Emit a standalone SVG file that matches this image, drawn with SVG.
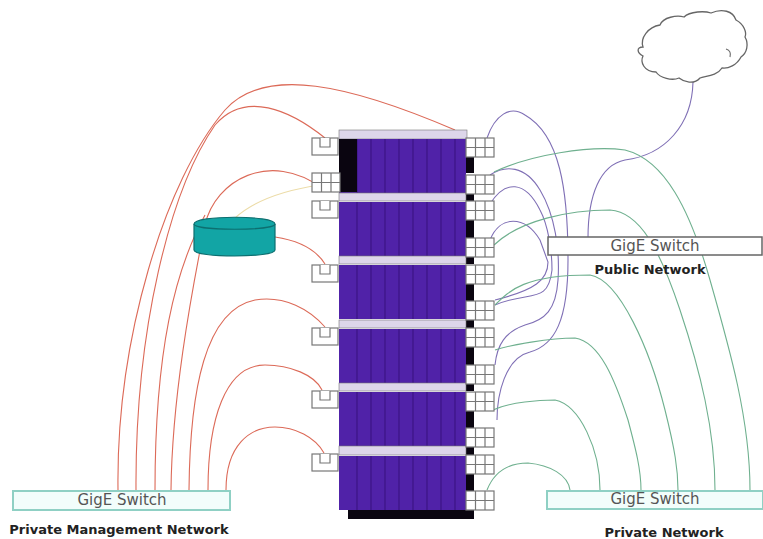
<svg xmlns="http://www.w3.org/2000/svg" width="763" height="539" viewBox="0 0 763 539">
<style>
.r{fill:none;stroke:#dc6a58;stroke-width:1.1}
.p{fill:none;stroke:#7f6fb5;stroke-width:1.1}
.g{fill:none;stroke:#6fb08f;stroke-width:1.1}
.port{fill:#fff;stroke:#777;stroke-width:1.2}
.blade{fill:#5022a8}
.bar{fill:#ddd6ea;stroke:#777;stroke-width:.6}
.k{fill:#0a0510}
.sl{stroke:#3c1585;stroke-width:1.2}
.sw{fill:#f2fdfb;stroke:#8fd0c4;stroke-width:2}
.t{font-family:"DejaVu Sans",sans-serif;font-size:15px;fill:#555;text-anchor:middle}
.l{font-family:"DejaVu Sans",sans-serif;font-weight:bold;font-size:13px;fill:#222;text-anchor:middle}
</style>
<defs>
<g id="single"><rect class="port" x="0" y="0" width="26" height="17"/><path class="port" d="M8 0V9H18V0" fill="none"/></g>
<g id="triple"><rect class="port" x="0" y="0" width="28" height="19"/><path class="port" d="M9.500 0V19M19 0V19M0 9.500H28" fill="none"/></g>
<g id="blade"><rect class="blade" x="339" y="0" width="127" height="54"/>
<path class="sl" d="M357 0V54M371 0V54M385 0V54M399 0V54M413 0V54M427 0V54M441 0V54M455 0V54"/></g>
</defs>
<g id="connectors">
<path class="r" d="M118 490C116 340 165 180 225 110C265 65 350 85 455 130"/>
<path class="r" d="M136 490C135 330 170 190 215 125C245 90 290 110 325 138"/>
<path class="r" d="M155 490C155 350 175 270 205 215"/>
<path class="r" d="M171 490C172 400 190 300 205 225C215 180 270 150 322 188"/>
<path class="r" d="M189 490C190 390 205 310 255 300C285 295 310 310 325 327"/>
<path class="r" d="M208 490C208 420 225 365 265 365C290 365 315 375 322 390"/>
<path class="r" d="M226 490C226 445 250 427 275 427C295 427 315 437 324 453"/>
<path class="r" d="M275 237C295 240 315 248 325 264"/>
<path d="M235 218C255 200 285 190 320 185" fill="none" stroke="#ecdca8" stroke-width="1.100"/>
<path class="p" d="M693 82C692 125 665 155 625 160C600 165 588 195 588 238"/>
<path class="p" d="M487 138C495 115 510 105 525 115C560 135 568 190 568 260C568 320 555 345 530 352C505 358 497 395 497 420"/>
<path class="p" d="M490 175C505 165 525 165 540 190C555 215 560 250 558 280C556 310 545 320 525 325C505 332 497 345 495 365"/>
<path class="p" d="M490 204C505 180 525 180 540 210C548 225 552 250 552 270C548 305 530 290 495 305"/>
<path class="p" d="M490 240C500 215 525 215 540 240L548 262C548 280 535 290 495 300"/>
<path class="g" d="M494 172C530 155 590 145 625 150C665 160 690 210 710 280C730 350 750 420 750 490"/>
<path class="g" d="M494 245C520 220 570 210 610 210C640 212 660 250 680 310C700 370 715 430 715 490"/>
<path class="g" d="M495 305C510 290 525 275 590 275C620 280 650 350 665 410C675 450 678 470 678 490"/>
<path class="g" d="M495 350C510 345 550 338 575 338C600 342 615 380 628 420C636 450 641 470 641 490"/>
<path class="g" d="M493 410C510 402 540 400 555 400C580 405 600 450 600 490"/>
<path class="g" d="M487 490C495 470 510 463 528 463C550 465 568 475 570 490"/>
</g>
<g id="rack">
<rect x="348" y="510" width="126" height="9" class="k"/>
<rect class="k" x="466" y="157" width="8" height="16"/><rect class="k" x="466" y="194" width="8" height="7"/>
<rect class="k" x="466" y="220" width="8" height="18"/><rect class="k" x="466" y="257" width="8" height="7"/>
<rect class="k" x="466" y="283" width="8" height="18"/><rect class="k" x="466" y="320" width="8" height="8"/>
<rect class="k" x="466" y="347" width="8" height="18"/><rect class="k" x="466" y="384" width="8" height="7"/>
<rect class="k" x="466" y="411" width="8" height="17"/><rect class="k" x="466" y="447" width="8" height="8"/>
<rect class="k" x="466" y="473" width="8" height="18"/>
<rect class="bar" x="339" y="130" width="128" height="9"/>
<use href="#blade" y="139"/><rect class="k" x="339" y="139" width="18" height="53"/>
<rect class="bar" x="339" y="193" width="127" height="8"/>
<use href="#blade" y="202"/>
<rect class="bar" x="339" y="256" width="127" height="8"/>
<use href="#blade" y="265"/>
<rect class="bar" x="339" y="320" width="127" height="8"/>
<use href="#blade" y="329"/>
<rect class="bar" x="339" y="383" width="127" height="8"/>
<use href="#blade" y="392"/>
<rect class="bar" x="339" y="446" width="127" height="9"/>
<use href="#blade" y="456"/>
</g>
<g id="ports-left">
<use href="#single" x="312" y="138"/><use href="#triple" x="312" y="173"/><use href="#single" x="312" y="201"/>
<use href="#single" x="312" y="265"/><use href="#single" x="312" y="328"/><use href="#single" x="312" y="391"/><use href="#single" x="312" y="454"/>
</g>
<g id="ports-right">
<use href="#triple" x="466" y="138"/><use href="#triple" x="466" y="175"/><use href="#triple" x="466" y="201"/>
<use href="#triple" x="466" y="238"/><use href="#triple" x="466" y="265"/><use href="#triple" x="466" y="301"/>
<use href="#triple" x="466" y="328"/><use href="#triple" x="466" y="365"/><use href="#triple" x="466" y="392"/>
<use href="#triple" x="466" y="428"/><use href="#triple" x="466" y="455"/><use href="#triple" x="466" y="491"/>
</g>
<g id="disk">
<path d="M194 224C194 215 275 215 275 224V250C275 258 194 258 194 250Z" fill="#12a5a5" stroke="#0d6f70" stroke-width="1.200"/>
<path d="M194 224C194 231 275 231 275 224" fill="none" stroke="#0d6f70" stroke-width="1.200"/>
</g>
<g id="cloud">
<path d="M643 47C640 38 648 27 660 25C663 17 677 15 684 17C690 11 705 11 711 13C722 8 733 11 736 20C744 24 747 33 745 37C749 44 747 53 741 57C737 65 728 69 722 68C717 76 706 76 700 78C694 85 684 82 679 78C672 81 660 78 656 72C644 72 640 62 643 56C637 53 636 47 643 47Z" fill="#fff" stroke="#666" stroke-width="1.300"/>
<path d="M726 49C730 50 731 53 730 57" fill="none" stroke="#666" stroke-width="1.100"/>
</g>
<g id="switch-mgmt"><rect class="sw" x="13" y="491" width="217" height="19"/><text class="t" x="122" y="505">GigE Switch</text></g>
<text class="l" x="119" y="534">Private Management Network</text>
<g id="switch-public"><rect x="548" y="237" width="214" height="18" fill="#fff" stroke="#666" stroke-width="1.500"/><text class="t" x="655" y="251">GigE Switch</text></g>
<text class="l" x="650" y="274">Public Network</text>
<g id="switch-private"><rect class="sw" x="547" y="491" width="216" height="18"/><text class="t" x="655" y="504">GigE Switch</text></g>
<text class="l" x="664" y="537">Private Network</text>
</svg>
